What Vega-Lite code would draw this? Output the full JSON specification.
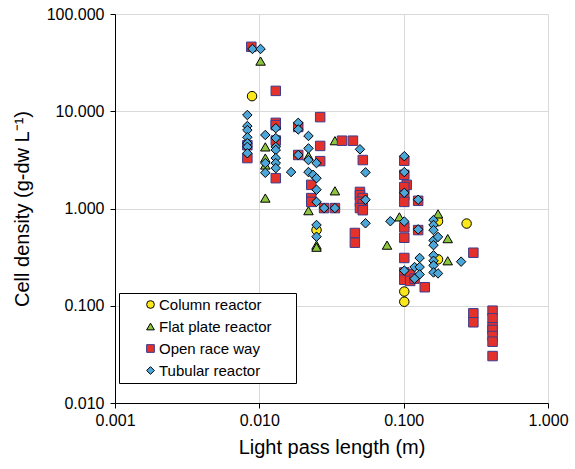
{
  "$schema": "https://vega.github.io/schema/vega-lite/v6.json",
  "width": 433,
  "height": 389,
  "autosize": "none",
  "padding": {"left": 115, "top": 14, "right": 27, "bottom": 66},
  "background": "white",
  "config": {
    "view": {"stroke": null},
    "font": "Liberation Sans",
    "axis": {
      "labelFont": "Liberation Sans", "labelFontSize": 16, "labelColor": "black",
      "titleFont": "Liberation Sans", "titleFontSize": 20, "titleFontWeight": "normal", "titleColor": "black",
      "domainColor": "black", "tickColor": "black", "tickSize": 5,
      "gridColor": "#d9d9d9", "gridWidth": 1
    },
    "legend": {
      "labelFont": "Liberation Sans", "labelFontSize": 15, "labelColor": "black",
      "orient": "none", "legendX": 4, "legendY": 279,
      "strokeColor": "black", "fillColor": "white", "padding": 4,
      "symbolOffset": 20, "labelOffset": 1, "rowPadding": 6, "symbolSize": 60,
      "symbolStrokeWidth": 1,
      "titleOrient": "right", "titlePadding": 20, "titleFontSize": 10
    }
  },
  "data": {"values": [
    {"x": 0.0089, "y": 14.3, "type": "Column reactor"},
    {"x": 0.0249, "y": 0.60, "type": "Column reactor"},
    {"x": 0.101, "y": 0.14, "type": "Column reactor"},
    {"x": 0.101, "y": 0.11, "type": "Column reactor"},
    {"x": 0.273, "y": 0.70, "type": "Column reactor"},
    {"x": 0.173, "y": 0.30, "type": "Column reactor"},
    {"x": 0.173, "y": 0.74, "type": "Column reactor"},

    {"x": 0.0102, "y": 32.8, "type": "Flat plate reactor"},
    {"x": 0.0110, "y": 4.3, "type": "Flat plate reactor"},
    {"x": 0.0110, "y": 3.3, "type": "Flat plate reactor"},
    {"x": 0.0110, "y": 2.8, "type": "Flat plate reactor"},
    {"x": 0.0110, "y": 1.28, "type": "Flat plate reactor"},
    {"x": 0.0219, "y": 3.47, "type": "Flat plate reactor"},
    {"x": 0.0219, "y": 0.95, "type": "Flat plate reactor"},
    {"x": 0.0249, "y": 0.42, "type": "Flat plate reactor"},
    {"x": 0.0249, "y": 0.40, "type": "Flat plate reactor"},
    {"x": 0.0334, "y": 4.98, "type": "Flat plate reactor"},
    {"x": 0.0334, "y": 1.52, "type": "Flat plate reactor"},
    {"x": 0.0934, "y": 0.82, "type": "Flat plate reactor"},
    {"x": 0.0767, "y": 0.42, "type": "Flat plate reactor"},
    {"x": 0.173, "y": 0.88, "type": "Flat plate reactor"},
    {"x": 0.202, "y": 0.49, "type": "Flat plate reactor"},
    {"x": 0.202, "y": 0.29, "type": "Flat plate reactor"},
    {"x": 0.101, "y": 0.70, "type": "Flat plate reactor"},

    {"x": 0.0088, "y": 46, "type": "Open race way"},
    {"x": 0.0130, "y": 16.2, "type": "Open race way"},
    {"x": 0.00826, "y": 4.47, "type": "Open race way"},
    {"x": 0.00826, "y": 3.3, "type": "Open race way"},
    {"x": 0.0130, "y": 7.6, "type": "Open race way"},
    {"x": 0.0130, "y": 7.2, "type": "Open race way"},
    {"x": 0.0130, "y": 5.0, "type": "Open race way"},
    {"x": 0.0130, "y": 2.05, "type": "Open race way"},
    {"x": 0.0186, "y": 6.9, "type": "Open race way"},
    {"x": 0.0186, "y": 3.55, "type": "Open race way"},
    {"x": 0.0264, "y": 8.7, "type": "Open race way"},
    {"x": 0.0264, "y": 4.4, "type": "Open race way"},
    {"x": 0.0264, "y": 3.07, "type": "Open race way"},
    {"x": 0.0229, "y": 1.75, "type": "Open race way"},
    {"x": 0.0229, "y": 1.28, "type": "Open race way"},
    {"x": 0.0229, "y": 1.17, "type": "Open race way"},
    {"x": 0.0281, "y": 1.01, "type": "Open race way"},
    {"x": 0.0334, "y": 1.01, "type": "Open race way"},
    {"x": 0.0374, "y": 4.98, "type": "Open race way"},
    {"x": 0.0445, "y": 4.98, "type": "Open race way"},
    {"x": 0.0521, "y": 3.15, "type": "Open race way"},
    {"x": 0.0498, "y": 1.48, "type": "Open race way"},
    {"x": 0.0498, "y": 1.37, "type": "Open race way"},
    {"x": 0.0521, "y": 1.28, "type": "Open race way"},
    {"x": 0.0498, "y": 1.17, "type": "Open race way"},
    {"x": 0.0521, "y": 1.11, "type": "Open race way"},
    {"x": 0.0498, "y": 1.01, "type": "Open race way"},
    {"x": 0.0521, "y": 0.96, "type": "Open race way"},
    {"x": 0.0459, "y": 0.56, "type": "Open race way"},
    {"x": 0.0459, "y": 0.445, "type": "Open race way"},
    {"x": 0.101, "y": 3.1, "type": "Open race way"},
    {"x": 0.101, "y": 2.22, "type": "Open race way"},
    {"x": 0.105, "y": 1.75, "type": "Open race way"},
    {"x": 0.101, "y": 1.66, "type": "Open race way"},
    {"x": 0.101, "y": 1.37, "type": "Open race way"},
    {"x": 0.101, "y": 1.17, "type": "Open race way"},
    {"x": 0.101, "y": 0.64, "type": "Open race way"},
    {"x": 0.101, "y": 0.50, "type": "Open race way"},
    {"x": 0.101, "y": 0.31, "type": "Open race way"},
    {"x": 0.101, "y": 0.22, "type": "Open race way"},
    {"x": 0.101, "y": 0.185, "type": "Open race way"},
    {"x": 0.126, "y": 1.2, "type": "Open race way"},
    {"x": 0.126, "y": 0.60, "type": "Open race way"},
    {"x": 0.111, "y": 0.21, "type": "Open race way"},
    {"x": 0.111, "y": 0.18, "type": "Open race way"},
    {"x": 0.119, "y": 0.19, "type": "Open race way"},
    {"x": 0.140, "y": 0.155, "type": "Open race way"},
    {"x": 0.304, "y": 0.351, "type": "Open race way"},
    {"x": 0.304, "y": 0.0836, "type": "Open race way"},
    {"x": 0.304, "y": 0.0676, "type": "Open race way"},
    {"x": 0.413, "y": 0.089, "type": "Open race way"},
    {"x": 0.413, "y": 0.0743, "type": "Open race way"},
    {"x": 0.413, "y": 0.060, "type": "Open race way"},
    {"x": 0.413, "y": 0.0564, "type": "Open race way"},
    {"x": 0.413, "y": 0.0489, "type": "Open race way"},
    {"x": 0.413, "y": 0.0427, "type": "Open race way"},
    {"x": 0.413, "y": 0.0304, "type": "Open race way"},

    {"x": 0.00896, "y": 43.7, "type": "Tubular reactor"},
    {"x": 0.0102, "y": 43.7, "type": "Tubular reactor"},
    {"x": 0.00826, "y": 9.15, "type": "Tubular reactor"},
    {"x": 0.00826, "y": 7.05, "type": "Tubular reactor"},
    {"x": 0.00826, "y": 6.4, "type": "Tubular reactor"},
    {"x": 0.00826, "y": 5.4, "type": "Tubular reactor"},
    {"x": 0.00826, "y": 4.7, "type": "Tubular reactor"},
    {"x": 0.00826, "y": 4.3, "type": "Tubular reactor"},
    {"x": 0.00826, "y": 3.7, "type": "Tubular reactor"},
    {"x": 0.0110, "y": 5.7, "type": "Tubular reactor"},
    {"x": 0.0110, "y": 2.93, "type": "Tubular reactor"},
    {"x": 0.0110, "y": 2.33, "type": "Tubular reactor"},
    {"x": 0.0130, "y": 6.7, "type": "Tubular reactor"},
    {"x": 0.0130, "y": 5.3, "type": "Tubular reactor"},
    {"x": 0.0130, "y": 4.3, "type": "Tubular reactor"},
    {"x": 0.0130, "y": 4.0, "type": "Tubular reactor"},
    {"x": 0.0130, "y": 3.3, "type": "Tubular reactor"},
    {"x": 0.0130, "y": 2.93, "type": "Tubular reactor"},
    {"x": 0.0130, "y": 2.6, "type": "Tubular reactor"},
    {"x": 0.0166, "y": 2.37, "type": "Tubular reactor"},
    {"x": 0.0186, "y": 7.6, "type": "Tubular reactor"},
    {"x": 0.0186, "y": 6.5, "type": "Tubular reactor"},
    {"x": 0.0186, "y": 3.55, "type": "Tubular reactor"},
    {"x": 0.0219, "y": 5.57, "type": "Tubular reactor"},
    {"x": 0.0219, "y": 4.15, "type": "Tubular reactor"},
    {"x": 0.0219, "y": 3.15, "type": "Tubular reactor"},
    {"x": 0.0219, "y": 2.37, "type": "Tubular reactor"},
    {"x": 0.0236, "y": 2.22, "type": "Tubular reactor"},
    {"x": 0.0249, "y": 2.05, "type": "Tubular reactor"},
    {"x": 0.0249, "y": 2.93, "type": "Tubular reactor"},
    {"x": 0.0249, "y": 1.56, "type": "Tubular reactor"},
    {"x": 0.0249, "y": 1.17, "type": "Tubular reactor"},
    {"x": 0.0281, "y": 1.01, "type": "Tubular reactor"},
    {"x": 0.0334, "y": 1.01, "type": "Tubular reactor"},
    {"x": 0.0249, "y": 0.677, "type": "Tubular reactor"},
    {"x": 0.0249, "y": 0.513, "type": "Tubular reactor"},
    {"x": 0.0498, "y": 4.06, "type": "Tubular reactor"},
    {"x": 0.0544, "y": 2.35, "type": "Tubular reactor"},
    {"x": 0.0544, "y": 1.23, "type": "Tubular reactor"},
    {"x": 0.0544, "y": 0.705, "type": "Tubular reactor"},
    {"x": 0.101, "y": 3.45, "type": "Tubular reactor"},
    {"x": 0.101, "y": 2.37, "type": "Tubular reactor"},
    {"x": 0.101, "y": 1.45, "type": "Tubular reactor"},
    {"x": 0.101, "y": 0.735, "type": "Tubular reactor"},
    {"x": 0.101, "y": 0.23, "type": "Tubular reactor"},
    {"x": 0.0809, "y": 0.74, "type": "Tubular reactor"},
    {"x": 0.126, "y": 1.23, "type": "Tubular reactor"},
    {"x": 0.126, "y": 0.61, "type": "Tubular reactor"},
    {"x": 0.129, "y": 0.31, "type": "Tubular reactor"},
    {"x": 0.119, "y": 0.25, "type": "Tubular reactor"},
    {"x": 0.129, "y": 0.25, "type": "Tubular reactor"},
    {"x": 0.129, "y": 0.21, "type": "Tubular reactor"},
    {"x": 0.119, "y": 0.19, "type": "Tubular reactor"},
    {"x": 0.161, "y": 0.76, "type": "Tubular reactor"},
    {"x": 0.161, "y": 0.677, "type": "Tubular reactor"},
    {"x": 0.161, "y": 0.60, "type": "Tubular reactor"},
    {"x": 0.161, "y": 0.47, "type": "Tubular reactor"},
    {"x": 0.173, "y": 0.51, "type": "Tubular reactor"},
    {"x": 0.161, "y": 0.42, "type": "Tubular reactor"},
    {"x": 0.161, "y": 0.33, "type": "Tubular reactor"},
    {"x": 0.161, "y": 0.29, "type": "Tubular reactor"},
    {"x": 0.161, "y": 0.26, "type": "Tubular reactor"},
    {"x": 0.161, "y": 0.22, "type": "Tubular reactor"},
    {"x": 0.173, "y": 0.215, "type": "Tubular reactor"},
    {"x": 0.25, "y": 0.284, "type": "Tubular reactor"}
  ]},
  "mark": {"type": "point", "filled": true, "opacity": 1, "strokeWidth": 1, "size": 90},
  "encoding": {
    "x": {
      "field": "x", "type": "quantitative",
      "scale": {"type": "log", "domain": [0.001, 1], "nice": false},
      "axis": {"title": "Light pass length (m)", "values": [0.001, 0.01, 0.1, 1], "format": ".3f", "labelPadding": 4, "titlePadding": 9, "labelFlush": false}
    },
    "y": {
      "field": "y", "type": "quantitative",
      "scale": {"type": "log", "domain": [0.01, 100], "nice": false},
      "axis": {"title": "Cell density (g-dw L⁻¹)", "values": [0.01, 0.1, 1, 10, 100], "format": ".3f", "labelPadding": 6, "titlePadding": 14, "labelFlush": false}
    },
    "fill": {
      "field": "type", "type": "nominal",
      "scale": {"domain": ["Column reactor", "Flat plate reactor", "Open race way", "Tubular reactor"], "range": ["#fbe81a", "#8cc63f", "#e4322b", "#4ca6d8"]},
      "legend": {"title": "\u00a0"}
    },
    "shape": {
      "field": "type", "type": "nominal",
      "scale": {"domain": ["Column reactor", "Flat plate reactor", "Open race way", "Tubular reactor"], "range": ["circle", "triangle-up", "square", "diamond"]},
      "legend": {"title": "\u00a0"}
    },
    "stroke": {
      "field": "type", "type": "nominal",
      "scale": {"domain": ["Column reactor", "Flat plate reactor", "Open race way", "Tubular reactor"], "range": ["#000000", "#000000", "#3d3b8e", "#000000"]},
      "legend": {"title": "\u00a0"}
    }
  }
}
